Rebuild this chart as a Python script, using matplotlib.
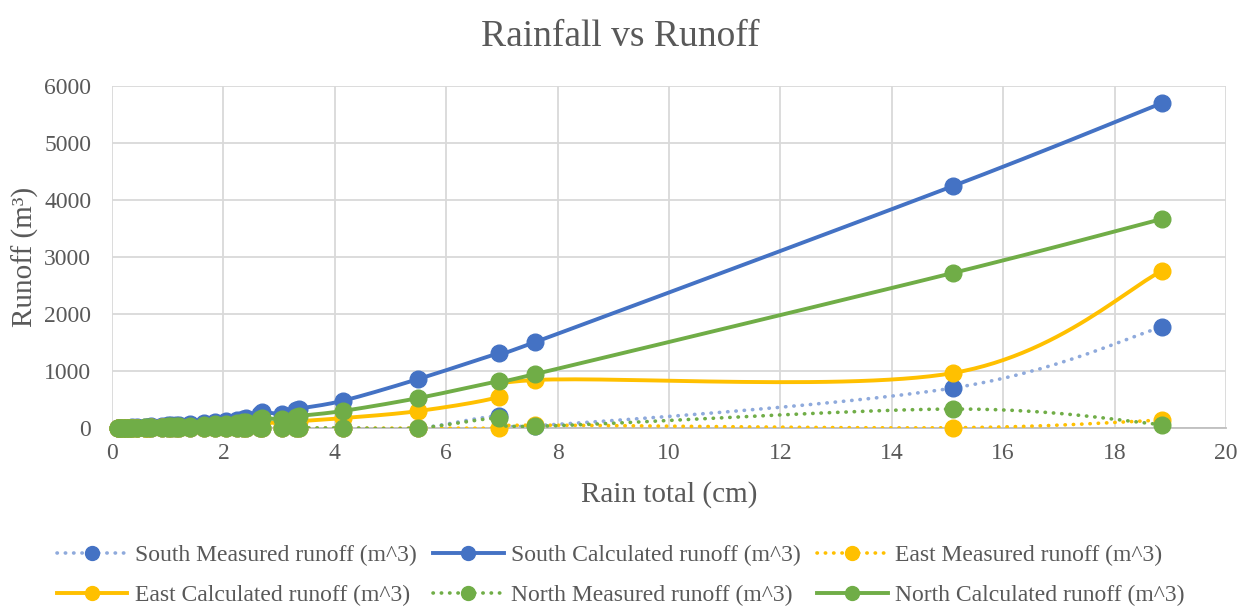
import numpy as np
import matplotlib
matplotlib.use("Agg")
import matplotlib.pyplot as plt
from matplotlib.lines import Line2D

# Rain total per event (cm)
rain = [0.1, 0.15, 0.2, 0.25, 0.3, 0.35, 0.45, 0.6, 0.65, 0.7, 0.9, 1.0, 1.05,
        1.15, 1.2, 1.4, 1.65, 1.85, 2.05, 2.25, 2.35, 2.4, 2.65, 2.7, 3.05,
        3.3, 3.35, 4.15, 5.5, 6.95, 7.6, 15.1, 18.85]

# Runoff per catchment (m^3)
south_measured = [0, 0, 0, 0, 0, 0, 0, 0, 0, 0, 0, 0, 0, 0, 0, 0, 0, 0, 0, 0,
                  0, 0, 0, 0, 0, 0, 0, 0, 0, 210, 40, 702, 1772]
south_calculated = [0, 0, 2, 5, 8, 10, 15, 22, 25, 28, 38, 45, 48, 55, 58, 70,
                    88, 100, 115, 140, 165, 180, 250, 280, 250, 320, 340, 480,
                    860, 1316, 1509, 4245, 5700]
east_measured = [0, 0, 0, 0, 0, 0, 0, 0, 0, 0, 0, 0, 0, 0, 0, 0, 0, 0, 0, 0,
                 0, 0, 0, 0, 0, 0, 0, 0, 0, 0, 50, 5, 140]
east_calculated = [0, 0, 1, 2, 3, 4, 5, 8, 9, 10, 13, 16, 17, 19, 20, 25, 31,
                   35, 40, 49, 58, 63, 88, 98, 88, 112, 119, 175, 298, 544, 842,
                   965, 2754]
north_measured = [0, 0, 0, 0, 0, 0, 0, 0, 0, 0, 0, 0, 0, 0, 0, 0, 0, 0, 0, 0,
                  0, 0, 0, 0, 0, 0, 0, 0, 0, 175, 30, 333, 60]
north_calculated = [0, 0, 1, 3, 5, 6, 9, 14, 16, 17, 24, 28, 30, 34, 36, 43, 55,
                    62, 71, 87, 102, 112, 155, 174, 155, 198, 211, 300, 526, 825,
                    947, 2720, 3667]

labels = ["South Measured runoff (m^3)", "South Calculated runoff (m^3)",
          "East Measured runoff (m^3)", "East Calculated runoff (m^3)",
          "North Measured runoff (m^3)", "North Calculated runoff (m^3)"]

BLUE, YELLOW, GREEN = "#4472C4", "#FFC000", "#70AD47"
TEXT = "#595959"


def smooth(x, y, n=30):
    # Bezier smoothing through every point (Catmull-Rom style control points)
    pts = np.column_stack([x, y]).astype(float)
    out = [pts[0]]
    t = np.linspace(0, 1, n)[1:, None]
    for i in range(len(pts) - 1):
        p0 = pts[i - 1] if i > 0 else pts[i]
        p1, p2 = pts[i], pts[i + 1]
        p3 = pts[i + 2] if i + 2 < len(pts) else pts[i + 1]
        c1 = p1 + (p2 - p0) / 6
        c2 = p2 - (p3 - p1) / 6
        seg = ((1 - t) ** 3 * p1 + 3 * (1 - t) ** 2 * t * c1
               + 3 * (1 - t) * t ** 2 * c2 + t ** 3 * p2)
        out.extend(seg)
    return np.array(out)


plt.rcParams["font.family"] = ["Liberation Serif", "DejaVu Serif"]

fig = plt.figure(figsize=(12.41, 6.14), dpi=100)
ax = fig.add_axes([0.0903, 0.3029, 0.8976, 0.5571])

series = [
    (south_measured, BLUE, "#8FAADC", "dot"),
    (south_calculated, BLUE, BLUE, "solid"),
    (east_measured, YELLOW, YELLOW, "dot"),
    (east_calculated, YELLOW, YELLOW, "solid"),
    (north_measured, GREEN, GREEN, "dot"),
    (north_calculated, GREEN, GREEN, "solid"),
]

handles = []
for k, ((vals, mcol, lcol, style), lab) in enumerate(zip(series, labels)):
    curve = smooth(rain, vals)
    if style == "dot":
        ls, lw = (0, (0.1, 2.2)), 2.6
    else:
        ls, lw = "-", 2.8
    ax.plot(curve[:, 0], curve[:, 1], color=lcol, ls=ls, lw=lw,
            dash_capstyle="round", zorder=2 + k)
    ax.plot(rain, vals, ls="none", marker="o", markersize=12,
            markerfacecolor=mcol, markeredgecolor=mcol, clip_on=False,
            zorder=2 + k)
    handles.append(Line2D([], [], color=lcol, ls=ls, lw=lw,
                          dash_capstyle="round", marker="o", markersize=10,
                          markerfacecolor=mcol, markeredgecolor=mcol))

ax.set_xlim(0, 20)
ax.set_ylim(0, 6000)
ax.set_xticks(np.arange(0, 21, 2))
ax.set_yticks(np.arange(0, 6001, 1000))
ax.grid(True, color="#D9D9D9", lw=1.3)
ax.set_axisbelow(True)
for side in ["top", "right", "left"]:
    ax.spines[side].set_visible(False)
ax.spines["bottom"].set_color("#BFBFBF")
ax.spines["bottom"].set_linewidth(1.3)
ax.tick_params(length=0, labelsize=17, colors=TEXT)
ax.tick_params(axis="x", pad=11)
ax.tick_params(axis="y", pad=15)

ax.set_xlabel("Rain total (cm)", fontsize=21, color=TEXT, labelpad=12)
ax.set_ylabel("Runoff (m³)", fontsize=21, color=TEXT, labelpad=4)
fig.text(0.5, 0.94, "Rainfall vs Runoff", ha="center", va="center",
         fontsize=27, color=TEXT)

order = [0, 3, 1, 4, 2, 5]
leg = fig.legend([handles[i] for i in order], [labels[i] for i in order],
                 loc="lower center", bbox_to_anchor=(0.5, -0.022), ncol=3,
                 frameon=False, fontsize=17, handlelength=3.0,
                 handletextpad=0.3, columnspacing=0.7, labelspacing=0.8)
for t in leg.get_texts():
    t.set_color(TEXT)

fig.savefig("out.png", dpi=100)
